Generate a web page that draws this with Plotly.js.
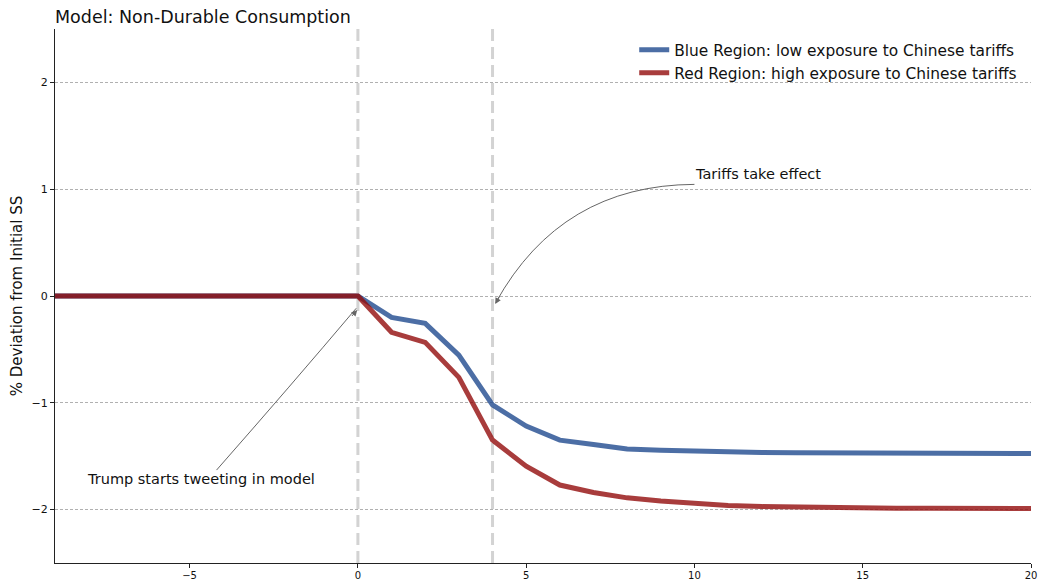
<!DOCTYPE html>
<html>
<head>
<meta charset="utf-8">
<script src="https://cdn.plot.ly/plotly-3.0.1.min.js"></script>
<style>html,body{margin:0;padding:0;background:#fff}#chart{width:1040px;height:582px}</style>
</head>
<body>
<div id="chart"></div>
<script>
const periods = [-9,-8,-7,-6,-5,-4,-3,-2,-1,0,1,2,3,4,5,6,7,8,9,10,11,12,13,14,15,16,17,18,19,20];
const blueRegion = [0,0,0,0,0,0,0,0,0,0,-0.20,-0.256,-0.553,-1.02,-1.218,-1.35,-1.39,-1.433,-1.445,-1.455,-1.462,-1.465,-1.468,-1.47,-1.472,-1.473,-1.473,-1.474,-1.474,-1.474];
const redRegion = [0,0,0,0,0,0,0,0,0,0,-0.34,-0.434,-0.762,-1.349,-1.593,-1.77,-1.84,-1.89,-1.92,-1.945,-1.962,-1.972,-1.978,-1.982,-1.985,-1.987,-1.988,-1.989,-1.99,-1.99];
const seriesNames = ["Blue Region: low exposure to Chinese tariffs", "Red Region: high exposure to Chinese tariffs"];
const eventDates = [0, 4];
const xTicks = [-5, 0, 5, 10, 15, 20];
const yTicks = [-2, -1, 0, 1, 2];

const font = "DejaVu Sans, sans-serif";

const traces = [
  {x: periods, y: blueRegion, name: seriesNames[0], mode: "lines",
   line: {color: "rgba(31,74,142,0.8)", width: 5}},
  {x: periods, y: redRegion, name: seriesNames[1], mode: "lines",
   line: {color: "rgba(146,11,11,0.8)", width: 5}}
];

const shapes = eventDates.map(d => ({
  type: "line", xref: "x", yref: "paper", x0: d, x1: d, y0: 0, y1: 1,
  layer: "below", line: {color: "rgba(200,200,200,0.8)", width: 3, dash: "12px,6px"}
}));
// curved annotation connectors
shapes.push({type: "path", xref: "x", yref: "y", layer: "above",
  path: "M 10.0 1.045 Q 6.04 1.04 4.1 -0.06",
  line: {color: "#666", width: 1}});
shapes.push({type: "path", xref: "x", yref: "y", layer: "above",
  path: "M -4.2 -1.63 Q -1.98 -0.834 -0.05 -0.115",
  line: {color: "#666", width: 1}});

const annotations = [
  {x: 9.96, y: 1.143, xref: "x", yref: "y", text: "Tariffs take effect", showarrow: false,
   xanchor: "left", yanchor: "middle", font: {family: font, size: 14.5, color: "#111"}},
  {x: 4.08, y: -0.075, xref: "x", yref: "y", text: "", showarrow: true, arrowhead: 2,
   arrowsize: 1.2, arrowwidth: 1, arrowcolor: "#666", ax: 5, ay: -9, standoff: 0},
  {x: -8.1, y: -1.715, xref: "x", yref: "y", text: "Trump starts tweeting in model", showarrow: false,
   xanchor: "left", yanchor: "middle", font: {family: font, size: 14.5, color: "#111"}},
  {x: -0.02, y: -0.131, xref: "x", yref: "y", text: "", showarrow: true, arrowhead: 2,
   arrowsize: 1.2, arrowwidth: 1, arrowcolor: "#666", ax: -6.6, ay: 7.5, standoff: 0}
];

const layout = {
  width: 1040, height: 582,
  margin: {l: 55, r: 9, t: 29, b: 19},
  paper_bgcolor: "#fff", plot_bgcolor: "#fff",
  font: {family: font, color: "#111"},
  title: {text: "Model: Non-Durable Consumption", x: 55/1040, xanchor: "left", y: 1 - 17/582, yanchor: "middle",
    font: {family: font, size: 17.5, color: "#111"}},
  xaxis: {range: [-9, 20], tickvals: xTicks, showgrid: false, zeroline: false,
    showline: true, linecolor: "#222", linewidth: 1, ticks: "outside", ticklen: 4, tickcolor: "#222",
    ticklabelstandoff: -1,
    tickfont: {family: font, size: 10, color: "#111"}},
  yaxis: {range: [-2.5, 2.5], tickvals: yTicks, showgrid: true, gridcolor: "#b0b0b0", griddash: "3px,2px",
    gridwidth: 1, zeroline: false, showline: true, linecolor: "#222", linewidth: 1,
    ticks: "outside", ticklen: 4, tickcolor: "#222",
    tickfont: {family: font, size: 11, color: "#111"},
    title: {text: "% Deviation from Initial SS", font: {family: font, size: 15, color: "#111"}, standoff: 5}},
  legend: {x: 0.991, xanchor: "right", y: 0.992, yanchor: "top", bgcolor: "rgba(0,0,0,0)",
    font: {family: font, size: 15.4, color: "#111"}, tracegroupgap: 0},
  showlegend: true,
  shapes: shapes,
  annotations: annotations
};

Plotly.newPlot("chart", traces, layout, {displayModeBar: false, staticPlot: true});
</script>
</body>
</html>
